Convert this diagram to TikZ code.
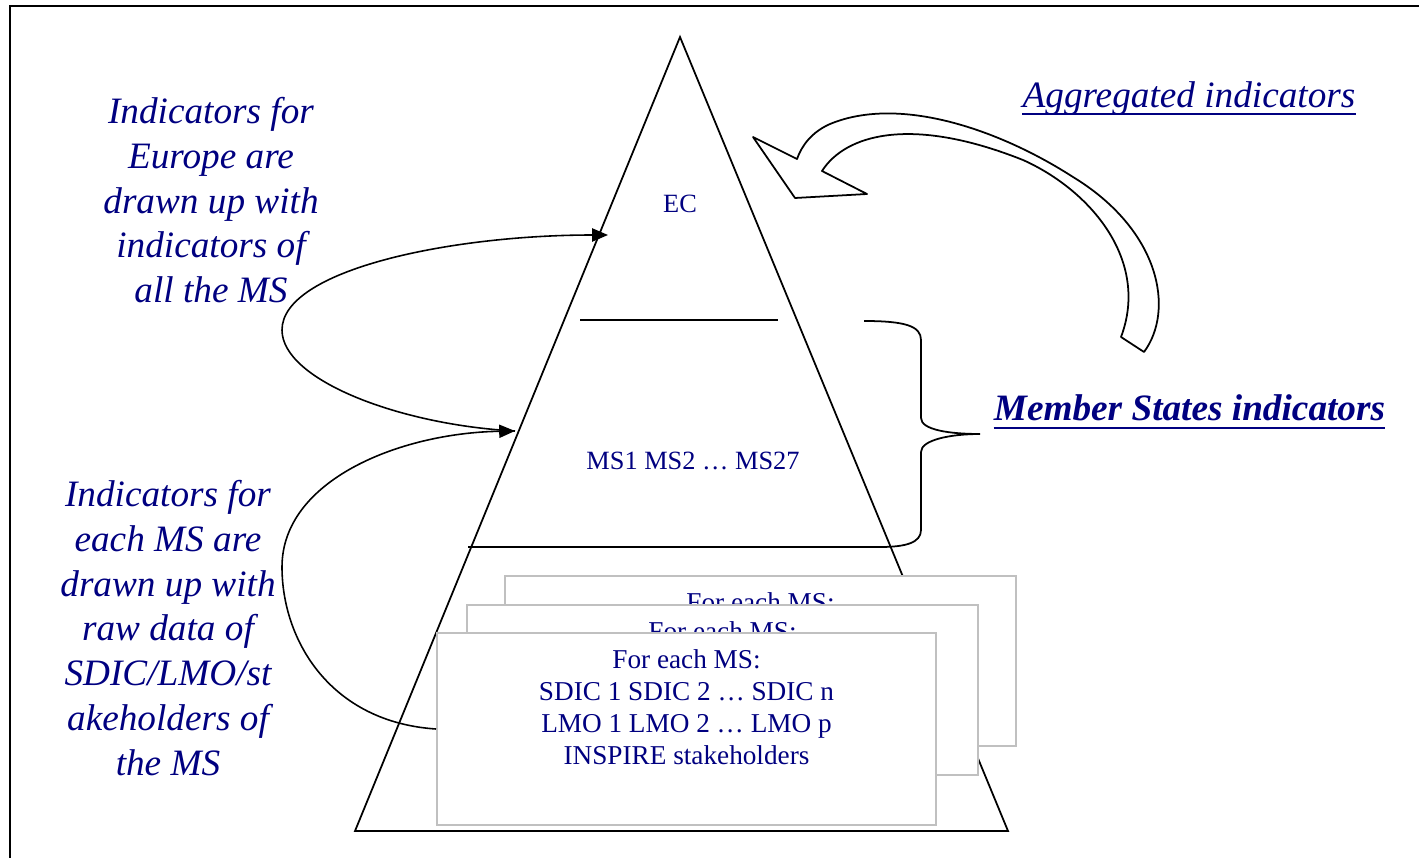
\documentclass[tikz,border=0pt]{standalone}
\usepackage{fontspec}
\setmainfont{Liberation Serif}
\usepackage{tikz}
\usetikzlibrary{arrows.meta,positioning,calc}
\definecolor{msnavy}{RGB}{0,0,128}
\definecolor{boxgray}{RGB}{192,192,192}

\begin{document}
\begin{tikzpicture}[x=0.02cm, y=-0.02cm,
    note/.style={font=\fontsize{21.2}{25.5}\selectfont\itshape, text=msnavy, align=center, inner sep=0pt},
    level/.style={font=\fontsize{15}{18}\selectfont, text=msnavy, inner sep=0pt},
    boxtext/.style={font=\fontsize{15.5}{18.2}\selectfont, text=msnavy, align=center, inner sep=0pt, anchor=north},
    msbox/.style={draw=boxgray, line width=1.2pt, fill=white, inner sep=0pt},
    link/.style={line width=0.9pt, -{Triangle[length=9pt,width=7.5pt]}},
    uline/.style={msnavy, line width=1.1pt}]
    \useasboundingbox (0,0) rectangle (1419,858);
    % Frame
    \draw[line width=1.3pt] (10,858) -- (10,6) -- (1419,6);
    % Pyramid
    \coordinate (apex) at (680,37);
    \coordinate (pbl) at (355,831);
    \coordinate (pbr) at (1008,831);
    \draw[line width=1pt] (apex) -- (pbl) -- (pbr) -- cycle;
    \draw[line width=1pt] (580,320) -- (778,320);
    \draw[line width=1pt] (468,547) -- (880,547);
    % Brace
    \draw[line width=1pt] (864,321) .. controls (905,321) and (921,326) .. (921,340) -- (921,418)
        .. controls (921,430) and (950,434) .. (980,434)
        .. controls (950,434) and (921,440) .. (921,452) -- (921,530)
        .. controls (921,543) and (905,547) .. (880,547);
    % Levels
    \node[level] (ec) at (680,204) {EC};
    \node[level] (ms) at (693,461) {MS1 MS2 … MS27};
    % Stacked boxes
    \node[msbox, minimum width=10.22cm, minimum height=3.4cm] (box3) at (760.5,661) {};
    \node[boxtext] (box3t) at ([yshift=-0.34cm]box3.north) {For each MS:};
    \node[msbox, minimum width=10.22cm, minimum height=3.4cm] (box2) at (722.5,690) {};
    \node[boxtext] (box2t) at ([yshift=-0.34cm]box2.north) {For each MS:};
    \node[msbox, minimum width=9.98cm, minimum height=3.84cm] (box1) at (686.5,729) {};
    \node[boxtext] (box1t) at ([yshift=-0.34cm]box1.north) {For each MS:\\SDIC 1 SDIC 2 … SDIC n\\LMO 1 LMO 2 … LMO p\\INSPIRE stakeholders};
    % Arrows between levels
    \coordinate (msin) at (515,431);
    \coordinate (ecin) at (608,235);
    \draw[link] (box1.west) .. controls (330,722) and (282,640) .. (282,567)
        .. controls (282,480) and (400,433) .. (msin);
    \draw[link] (msin) .. controls (400,425) and (282,380) .. (282,330)
        .. controls (282,270) and (450,235) .. (ecin);
    % Left notes
    \node[note, anchor=north] (eurotext) at (211,97) {Indicators for\\Europe are\\drawn up with\\indicators of\\all the MS};
    \node[note, anchor=north] (mstext) at (168,480) {Indicators for\\each MS are\\drawn up with\\raw data of\\SDIC/LMO/st\\akeholders of\\the MS};
    % Hollow arrow
    \draw[line width=1pt, line join=round] (1144,352) .. controls (1175,310) and (1160,230) .. (1073,177)
        .. controls (1000,130) and (900,95) .. (830,124) .. controls (812,132) and (802,145) .. (797,159)
        -- (753,137) -- (795,198) -- (867,194) -- (822,171)
        .. controls (845,135) and (910,115) .. (1023,160) .. controls (1090,190) and (1150,260) .. (1121,337)
        -- cycle;
    % Right labels
    \node[note, anchor=base] (aggtext) at (1189,108) {Aggregated indicators};
    \draw[uline] ([yshift=-3.5pt]aggtext.base west) -- ([yshift=-3.5pt]aggtext.base east);
    \node[note, font=\fontsize{21.2}{25.5}\selectfont\bfseries\itshape, anchor=base] (memtext) at (1189.5,420) {Member States indicators};
    \draw[uline, line width=1.6pt] ([yshift=-4.5pt]memtext.base west) -- ([yshift=-4.5pt]memtext.base east);
\end{tikzpicture}
\end{document}
